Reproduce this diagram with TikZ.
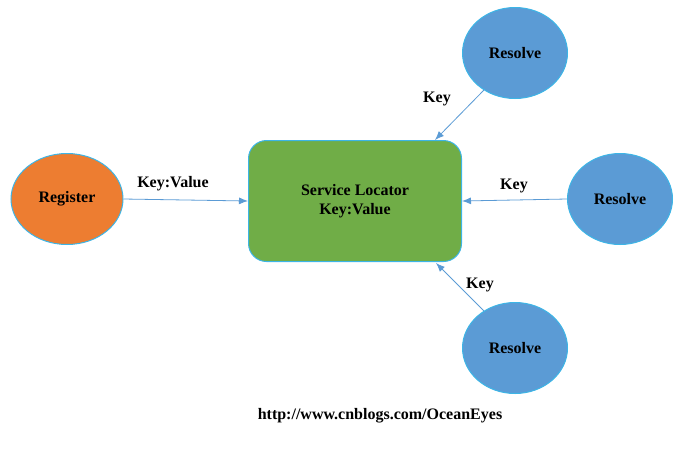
\documentclass[tikz,border=0pt]{standalone}
\usepackage{fontspec}
\setmainfont{Liberation Serif}
\usepackage{tikz}
\usetikzlibrary{arrows.meta,shapes.geometric}
\definecolor{regorange}{HTML}{ED7D31}
\definecolor{locgreen}{HTML}{70AD47}
\definecolor{resblue}{HTML}{5B9BD5}
\definecolor{rimblue}{HTML}{3DB5E6}

\begin{document}
\begin{tikzpicture}[x=1pt,y=-1pt]
    \tikzstyle{every node}=[font=\fontsize{16}{19}\selectfont\bfseries]
    \tikzstyle{blob}=[ellipse, draw=rimblue, line width=1pt, minimum width=105pt, minimum height=91pt, inner sep=0pt]
    \tikzstyle{locator}=[rectangle, rounded corners=18pt, draw=rimblue, line width=1pt, fill=locgreen, minimum width=213pt, minimum height=121pt, align=center]
    \tikzstyle{link}=[-{Latex[length=9pt,width=7pt]}, draw=resblue, line width=0.8pt]

    \useasboundingbox (0,0) rectangle (693,451);

    % centre
    \node[locator] (loc) at (355,201) {Service Locator\\Key:Value};

    % register side
    \node[blob, fill=regorange, minimum width=112pt] (reg) at (67,199) {Register};

    % resolvers
    \node[blob, fill=resblue] (resT) at (515,53) {Resolve};
    \node[blob, fill=resblue] (resR) at (620,199) {Resolve};
    \node[blob, fill=resblue] (resB) at (515,348) {Resolve};

    % connectors
    \draw[link] (reg.east) -- (loc.west);
    \node at (173,184) {Key:Value};
    \draw[link] (resT.-130) -- (435,140);
    \node at (437,99) {Key};
    \draw[link] (resR.west) -- (loc.east);
    \node at (514,186) {Key};
    \draw[link] (resB.130) -- (436,263);
    \node at (480,285) {Key};

    % footer
    \node at (380,416) {http://www.cnblogs.com/OceanEyes};
\end{tikzpicture}
\end{document}
